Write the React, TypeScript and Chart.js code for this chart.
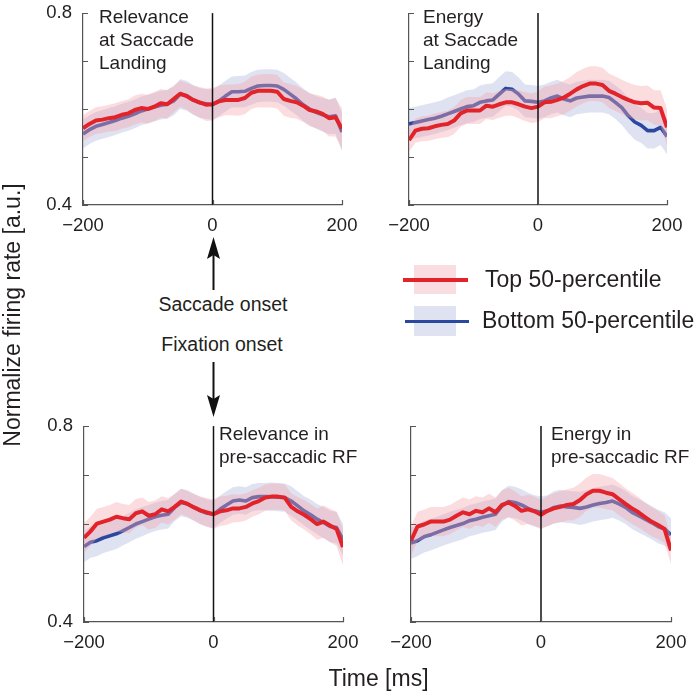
import React, { useEffect, useRef } from "react";
import { Chart, registerables } from "chart.js";

Chart.register(...registerables);

// ---------- data ----------
const TIME = [
  -200, -190, -180, -170, -160, -150, -140, -130, -120, -110, -100, -90, -80, -70, -60, -50, -40, -30, -20, -10,
  0, 10, 20, 30, 40, 50, 60, 70, 80, 90, 100, 110, 120, 130, 140, 150, 160, 170, 180, 190, 200,
];
const X_TICKS = [-200, 0, 200];
const Y_TICKS = [0.4, 0.5, 0.6, 0.7, 0.8];
const Y_LABELED = [0.4, 0.8];

// Relevance at Saccade Landing
const REL_LAND_TOP = [0.56, 0.569, 0.576, 0.578, 0.581, 0.583, 0.588, 0.591, 0.598, 0.602, 0.6, 0.605, 0.612, 0.61, 0.621, 0.632, 0.627, 0.619, 0.614, 0.609, 0.61, 0.616, 0.619, 0.619, 0.619, 0.623, 0.634, 0.638, 0.638, 0.638, 0.636, 0.621, 0.617, 0.614, 0.607, 0.598, 0.595, 0.59, 0.581, 0.583, 0.559];
const REL_LAND_TOP_ERR = [0.027, 0.027, 0.028, 0.028, 0.028, 0.029, 0.029, 0.029, 0.03, 0.03, 0.03, 0.03, 0.03, 0.029, 0.028, 0.027, 0.028, 0.03, 0.032, 0.034, 0.034, 0.033, 0.032, 0.032, 0.033, 0.034, 0.034, 0.034, 0.035, 0.035, 0.035, 0.035, 0.035, 0.034, 0.034, 0.034, 0.035, 0.036, 0.038, 0.04, 0.042];
const REL_LAND_BOT = [0.548, 0.557, 0.564, 0.568, 0.572, 0.576, 0.581, 0.585, 0.59, 0.596, 0.6, 0.604, 0.608, 0.61, 0.617, 0.631, 0.628, 0.619, 0.613, 0.611, 0.609, 0.617, 0.627, 0.636, 0.636, 0.637, 0.643, 0.648, 0.649, 0.649, 0.648, 0.641, 0.631, 0.621, 0.609, 0.6, 0.593, 0.588, 0.584, 0.586, 0.552];
const REL_LAND_BOT_ERR = [0.03, 0.03, 0.03, 0.03, 0.03, 0.03, 0.03, 0.03, 0.03, 0.03, 0.03, 0.03, 0.03, 0.03, 0.03, 0.031, 0.031, 0.031, 0.031, 0.031, 0.032, 0.032, 0.032, 0.032, 0.033, 0.033, 0.034, 0.034, 0.034, 0.034, 0.034, 0.034, 0.034, 0.034, 0.034, 0.034, 0.034, 0.035, 0.036, 0.038, 0.04];

// Energy at Saccade Landing
const EN_LAND_TOP = [0.535, 0.555, 0.559, 0.56, 0.564, 0.567, 0.569, 0.576, 0.591, 0.597, 0.597, 0.597, 0.607, 0.605, 0.61, 0.614, 0.614, 0.61, 0.605, 0.602, 0.605, 0.614, 0.615, 0.619, 0.624, 0.632, 0.641, 0.648, 0.653, 0.653, 0.65, 0.638, 0.632, 0.625, 0.619, 0.614, 0.612, 0.613, 0.603, 0.602, 0.562];
const EN_LAND_TOP_ERR = [0.024, 0.025, 0.026, 0.026, 0.027, 0.027, 0.028, 0.028, 0.028, 0.028, 0.028, 0.028, 0.028, 0.028, 0.028, 0.028, 0.028, 0.029, 0.03, 0.031, 0.032, 0.033, 0.034, 0.034, 0.035, 0.035, 0.036, 0.036, 0.036, 0.036, 0.036, 0.036, 0.036, 0.036, 0.036, 0.036, 0.036, 0.036, 0.036, 0.037, 0.038];
const EN_LAND_BOT = [0.569, 0.572, 0.575, 0.578, 0.581, 0.585, 0.59, 0.595, 0.6, 0.605, 0.607, 0.614, 0.617, 0.619, 0.631, 0.643, 0.641, 0.631, 0.617, 0.616, 0.614, 0.617, 0.623, 0.627, 0.621, 0.617, 0.623, 0.625, 0.627, 0.627, 0.627, 0.624, 0.614, 0.603, 0.586, 0.573, 0.566, 0.555, 0.555, 0.562, 0.543];
const EN_LAND_BOT_ERR = [0.033, 0.033, 0.033, 0.033, 0.033, 0.033, 0.034, 0.034, 0.034, 0.034, 0.034, 0.035, 0.035, 0.035, 0.036, 0.036, 0.036, 0.035, 0.034, 0.034, 0.034, 0.034, 0.034, 0.034, 0.034, 0.034, 0.034, 0.034, 0.034, 0.034, 0.034, 0.035, 0.035, 0.036, 0.036, 0.037, 0.037, 0.037, 0.037, 0.037, 0.037];

// Relevance in pre-saccadic RF
const REL_RF_TOP = [0.572, 0.585, 0.601, 0.605, 0.609, 0.615, 0.612, 0.61, 0.622, 0.626, 0.617, 0.62, 0.63, 0.626, 0.635, 0.646, 0.641, 0.634, 0.628, 0.624, 0.62, 0.626, 0.628, 0.632, 0.632, 0.635, 0.642, 0.647, 0.654, 0.656, 0.656, 0.654, 0.635, 0.626, 0.619, 0.61, 0.6, 0.605, 0.597, 0.59, 0.553];
const REL_RF_TOP_ERR = [0.03, 0.03, 0.03, 0.03, 0.03, 0.03, 0.029, 0.029, 0.029, 0.028, 0.028, 0.028, 0.027, 0.027, 0.026, 0.026, 0.026, 0.027, 0.028, 0.029, 0.03, 0.03, 0.03, 0.029, 0.028, 0.028, 0.027, 0.027, 0.027, 0.027, 0.027, 0.027, 0.028, 0.029, 0.03, 0.031, 0.032, 0.033, 0.034, 0.035, 0.037];
const REL_RF_BOT = [0.554, 0.563, 0.566, 0.572, 0.576, 0.58, 0.586, 0.593, 0.6, 0.605, 0.61, 0.615, 0.618, 0.62, 0.634, 0.644, 0.641, 0.634, 0.627, 0.622, 0.62, 0.63, 0.639, 0.647, 0.649, 0.647, 0.654, 0.656, 0.656, 0.656, 0.655, 0.654, 0.647, 0.637, 0.627, 0.619, 0.61, 0.603, 0.595, 0.593, 0.568];
const REL_RF_BOT_ERR = [0.032, 0.032, 0.032, 0.031, 0.031, 0.031, 0.03, 0.03, 0.03, 0.03, 0.029, 0.029, 0.029, 0.029, 0.028, 0.028, 0.028, 0.028, 0.028, 0.028, 0.028, 0.028, 0.028, 0.028, 0.028, 0.028, 0.028, 0.028, 0.028, 0.029, 0.029, 0.029, 0.03, 0.03, 0.03, 0.031, 0.031, 0.032, 0.032, 0.032, 0.032];

// Energy in pre-saccadic RF
const EN_RF_TOP = [0.566, 0.595, 0.599, 0.605, 0.605, 0.605, 0.609, 0.617, 0.624, 0.62, 0.627, 0.624, 0.632, 0.624, 0.639, 0.644, 0.637, 0.627, 0.63, 0.626, 0.619, 0.627, 0.632, 0.635, 0.639, 0.641, 0.649, 0.661, 0.668, 0.668, 0.664, 0.661, 0.651, 0.641, 0.632, 0.624, 0.614, 0.605, 0.598, 0.59, 0.546];
const EN_RF_TOP_ERR = [0.03, 0.03, 0.03, 0.03, 0.03, 0.03, 0.03, 0.03, 0.03, 0.03, 0.03, 0.03, 0.03, 0.03, 0.03, 0.03, 0.03, 0.03, 0.03, 0.03, 0.03, 0.031, 0.031, 0.032, 0.032, 0.033, 0.034, 0.034, 0.034, 0.034, 0.034, 0.033, 0.033, 0.032, 0.032, 0.031, 0.03, 0.03, 0.029, 0.028, 0.028];
const EN_RF_BOT = [0.561, 0.566, 0.574, 0.578, 0.583, 0.588, 0.593, 0.597, 0.601, 0.607, 0.61, 0.614, 0.617, 0.62, 0.637, 0.646, 0.644, 0.639, 0.632, 0.627, 0.624, 0.627, 0.634, 0.637, 0.635, 0.634, 0.632, 0.635, 0.639, 0.642, 0.644, 0.647, 0.641, 0.634, 0.624, 0.617, 0.61, 0.603, 0.595, 0.59, 0.578];
const EN_RF_BOT_ERR = [0.032, 0.032, 0.032, 0.032, 0.032, 0.032, 0.032, 0.032, 0.032, 0.032, 0.032, 0.032, 0.032, 0.032, 0.032, 0.032, 0.032, 0.032, 0.032, 0.032, 0.032, 0.032, 0.033, 0.033, 0.033, 0.033, 0.034, 0.034, 0.034, 0.034, 0.034, 0.034, 0.034, 0.034, 0.034, 0.034, 0.034, 0.034, 0.034, 0.034, 0.034];

// ---------- styling ----------
const FONT = "'Liberation Sans', Arial, Helvetica, sans-serif";
const TEXT = "#231f20";
const AXIS = "#555555";
const RED = "#e2232a";
const BLUE = "#2a48a0";
const PINK_BAND = "rgba(245,168,176,0.4)";
const BLUE_BAND = "rgba(150,160,210,0.3)";

const PAD_L = 70;
const PAD_T = 20;
const PAD_R = 30;
const PAD_B = 45;

const axisDecor = {
  id: "axisDecor",
  afterDatasetsDraw(chart: any) {
    const { ctx, chartArea, scales } = chart;
    const x0 = scales.x.getPixelForValue(0);
    ctx.save();
    ctx.strokeStyle = "#111";
    ctx.lineWidth = 1.5;
    ctx.beginPath();
    ctx.moveTo(x0, chartArea.top);
    ctx.lineTo(x0, chartArea.bottom);
    ctx.stroke();
    ctx.restore();
  },
  afterDraw(chart: any) {
    const { ctx, chartArea, scales } = chart;
    ctx.save();
    ctx.strokeStyle = AXIS;
    ctx.lineWidth = 1.2;
    ctx.beginPath();
    for (const v of Y_TICKS) {
      const py = Math.round(scales.y.getPixelForValue(v)) + 0.5;
      ctx.moveTo(chartArea.left, py);
      ctx.lineTo(chartArea.left + 5, py);
    }
    for (const v of X_TICKS) {
      const px = Math.round(scales.x.getPixelForValue(v)) + 0.5;
      ctx.moveTo(px, chartArea.bottom);
      ctx.lineTo(px, chartArea.bottom - 5);
    }
    ctx.stroke();
    ctx.restore();
  },
};

type Box = { l: number; t: number; r: number; b: number };

function Panel(props: {
  box: Box;
  top: number[];
  topErr: number[];
  bot: number[];
  botErr: number[];
  yLabels: boolean;
}) {
  const { box, top, topErr, bot, botErr, yLabels } = props;
  const ref = useRef<HTMLCanvasElement>(null);
  const w = PAD_L + (box.r - box.l) + PAD_R;
  const h = PAD_T + (box.b - box.t) + PAD_B;

  useEffect(() => {
    if (!ref.current) return;
    const mean = (m: number[]) => TIME.map((t, i) => ({ x: t, y: m[i] }));
    const upper = (m: number[], e: number[]) => TIME.map((t, i) => ({ x: t, y: m[i] + e[i] }));
    const lower = (m: number[], e: number[]) => TIME.map((t, i) => ({ x: t, y: m[i] - e[i] }));
    const lineDs = (data: any, color: string, width: number) => ({
      data,
      borderColor: color,
      borderWidth: width,
      pointRadius: 0,
      fill: false,
      tension: 0,
      borderJoinStyle: "round" as const,
      borderCapStyle: "butt" as const,
    });
    const bandDs = (data: any, color: string, fill: any) => ({
      data,
      borderWidth: 0,
      borderColor: "rgba(0,0,0,0)",
      backgroundColor: color,
      pointRadius: 0,
      fill,
      tension: 0,
    });
    const tickFont = { family: FONT, size: 18.5 };
    const chart = new Chart(ref.current, {
      type: "line",
      data: {
        datasets: [
          lineDs(mean(top), RED, 4),
          bandDs(upper(top, topErr), PINK_BAND, "+1"),
          bandDs(lower(top, topErr), "rgba(0,0,0,0)", false),
          lineDs(mean(bot), BLUE, 3.6),
          bandDs(upper(bot, botErr), BLUE_BAND, "+1"),
          bandDs(lower(bot, botErr), "rgba(0,0,0,0)", false),
        ],
      },
      options: {
        animation: false,
        responsive: false,
        maintainAspectRatio: false,
        events: [],
        layout: { padding: { left: 0, top: PAD_T, right: PAD_R, bottom: 0 } },
        plugins: { legend: { display: false }, tooltip: { enabled: false } },
        scales: {
          x: {
            type: "linear",
            min: -200,
            max: 200,
            afterBuildTicks: (s: any) => {
              s.ticks = X_TICKS.map((v) => ({ value: v }));
            },
            afterFit: (s: any) => {
              s.height = PAD_B;
            },
            grid: { display: false, drawTicks: false },
            border: { display: true, color: AXIS, width: 1.2 },
            ticks: {
              padding: 10,
              color: TEXT,
              font: tickFont,
              maxRotation: 0,
              autoSkip: false,
              callback: (v: any) => (v < 0 ? "\u2212" + Math.abs(v) : String(v)),
            },
          },
          y: {
            type: "linear",
            min: 0.4,
            max: 0.8,
            afterBuildTicks: (s: any) => {
              s.ticks = Y_TICKS.map((v) => ({ value: v }));
            },
            afterFit: (s: any) => {
              s.width = PAD_L;
            },
            grid: { display: false, drawTicks: false },
            border: { display: true, color: AXIS, width: 1.2 },
            ticks: {
              padding: 11,
              color: TEXT,
              font: tickFont,
              autoSkip: false,
              callback: (v: any) => {
                if (!yLabels) return "";
                const hit = Y_LABELED.find((L) => Math.abs(L - v) < 1e-6);
                return hit !== undefined ? hit.toFixed(1) : "";
              },
            },
          },
        },
      } as any,
      plugins: [axisDecor],
    });
    return () => chart.destroy();
  }, []);

  return (
    <canvas
      ref={ref}
      width={w}
      height={h}
      style={{ position: "absolute", left: box.l - PAD_L, top: box.t - PAD_T, width: w, height: h }}
    />
  );
}

function Lines(props: { x: number; baseline: number; lines: string[]; size: number; lh: number }) {
  const { x, baseline, lines, size, lh } = props;
  const top = baseline - lh / 2 - 0.3465 * size;
  return (
    <div
      style={{
        position: "absolute",
        left: x,
        top,
        fontSize: size,
        lineHeight: lh + "px",
        whiteSpace: "nowrap",
        color: TEXT,
      }}
    >
      {lines.map((s, i) => (
        <div key={i}>{s}</div>
      ))}
    </div>
  );
}

function Centered(props: { cx: number; baseline: number; text: string; size: number }) {
  const { cx, baseline, text, size } = props;
  return (
    <div
      style={{
        position: "absolute",
        left: cx,
        top: baseline - 0.8465 * size,
        transform: "translateX(-50%)",
        fontSize: size,
        lineHeight: "1",
        whiteSpace: "nowrap",
        color: TEXT,
      }}
    >
      {text}
    </div>
  );
}

export default function App() {
  return (
    <div
      style={{
        position: "absolute",
        left: 0,
        top: 0,
        width: 700,
        height: 695,
        background: "#fff",
        fontFamily: FONT,
        overflow: "hidden",
      }}
    >
      <Panel box={{ l: 83, t: 11, r: 342, b: 205 }} top={REL_LAND_TOP} topErr={REL_LAND_TOP_ERR} bot={REL_LAND_BOT} botErr={REL_LAND_BOT_ERR} yLabels={true} />
      <Panel box={{ l: 409, t: 11, r: 667, b: 205 }} top={EN_LAND_TOP} topErr={EN_LAND_TOP_ERR} bot={EN_LAND_BOT} botErr={EN_LAND_BOT_ERR} yLabels={false} />
      <Panel box={{ l: 84, t: 424, r: 343, b: 622 }} top={REL_RF_TOP} topErr={REL_RF_TOP_ERR} bot={REL_RF_BOT} botErr={REL_RF_BOT_ERR} yLabels={true} />
      <Panel box={{ l: 411, t: 424, r: 671, b: 622 }} top={EN_RF_TOP} topErr={EN_RF_TOP_ERR} bot={EN_RF_BOT} botErr={EN_RF_BOT_ERR} yLabels={false} />

      <Lines x={99} baseline={23} lines={["Relevance", "at Saccade", "Landing"]} size={19} lh={23.3} />
      <Lines x={423} baseline={23} lines={["Energy", "at Saccade", "Landing"]} size={19} lh={23.3} />
      <Lines x={219} baseline={440.5} lines={["Relevance in", "pre-saccadic RF"]} size={19} lh={23} />
      <Lines x={551} baseline={440.5} lines={["Energy in", "pre-saccadic RF"]} size={19} lh={23} />

      <Centered cx={223} baseline={311.5} text="Saccade onset" size={19.5} />
      <Centered cx={222} baseline={351.5} text="Fixation onset" size={19.5} />

      <svg width={700} height={695} style={{ position: "absolute", left: 0, top: 0 }}>
        <line x1={213.5} y1={290} x2={213.5} y2={252} stroke="#111" strokeWidth={2} />
        <polygon points="213.5,237 207,259 213.5,255 220,259" fill="#111" />
        <line x1={213.5} y1={362} x2={213.5} y2={400} stroke="#111" strokeWidth={2} />
        <polygon points="213.5,417 207,395 213.5,399 220,395" fill="#111" />
      </svg>

      {/* legend */}
      <div style={{ position: "absolute", left: 414, top: 265, width: 42, height: 29, background: "rgb(250,221,225)" }} />
      <div style={{ position: "absolute", left: 403, top: 278, width: 65, height: 3.6, background: RED }} />
      <div style={{ position: "absolute", left: 414, top: 306, width: 42, height: 30, background: "rgb(223,226,241)" }} />
      <div style={{ position: "absolute", left: 405, top: 319.5, width: 64, height: 3.6, background: BLUE }} />
      <div style={{ position: "absolute", left: 485, top: 287 - 0.8465 * 23, fontSize: 23, lineHeight: "1", whiteSpace: "nowrap", color: TEXT }}>
        Top 50-percentile
      </div>
      <div style={{ position: "absolute", left: 482, top: 328 - 0.8465 * 23, fontSize: 23, lineHeight: "1", whiteSpace: "nowrap", color: TEXT }}>
        Bottom 50-percentile
      </div>

      {/* axis titles */}
      <div
        style={{
          position: "absolute",
          left: 12,
          top: 315,
          transform: "translate(-50%, -50%) rotate(-90deg)",
          fontSize: 23,
          lineHeight: "1",
          whiteSpace: "nowrap",
          color: TEXT,
        }}
      >
        Normalize firing rate [a.u.]
      </div>
      <Centered cx={378.5} baseline={686} text="Time [ms]" size={23} />
    </div>
  );
}
